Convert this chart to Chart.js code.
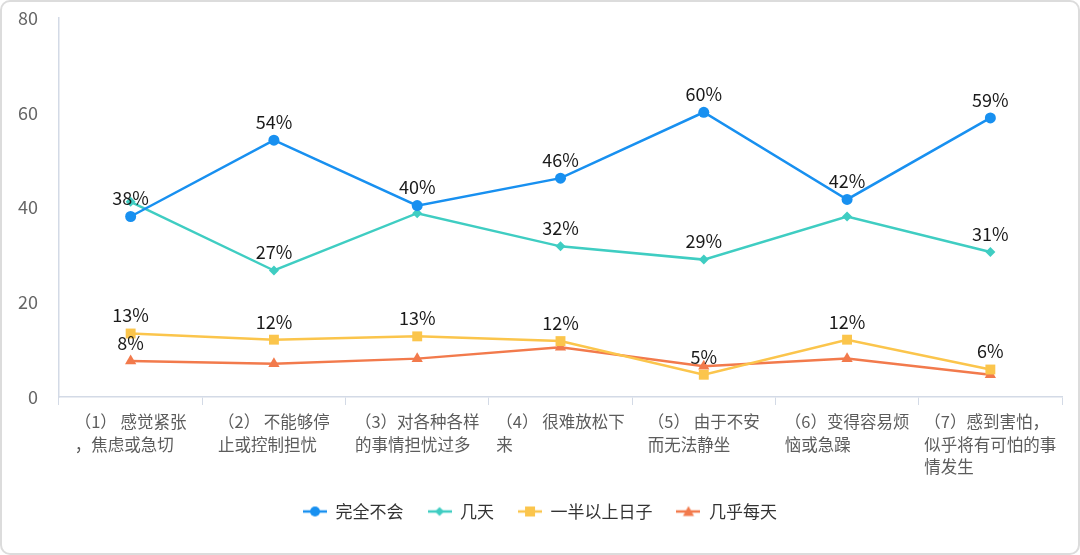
<!DOCTYPE html>
<html>
<head>
<meta charset="utf-8">
<script src="https://cdn.jsdelivr.net/npm/chart.js@4.4.0/dist/chart.umd.min.js"></script>
<style>
    html, body { margin: 0; padding: 0; background: #fff; }
    .frame {
        position: absolute; left: 0; top: 0;
        width: 1076px; height: 551px;
        border: 2px solid #dcdcdc; border-radius: 10px;
        overflow: hidden; background: #fff;
    }
    canvas { display: block; }
</style>
</head>
<body>
<div class="frame"><canvas id="gadChart" width="1076" height="551"></canvas></div>
<script>
// Categories (each one is a list of wrapped lines)
const categories = [
    ['（1） 感觉紧张', '，焦虑或急切'],
    ['（2） 不能够停', '止或控制担忧'],
    ['（3）对各种各样', '的事情担忧过多'],
    ['（4） 很难放松下', '来'],
    ['（5） 由于不安', '而无法静坐'],
    ['（6）变得容易烦', '恼或急躁'],
    ['（7）感到害怕，', '似乎将有可怕的事', '情发生'],
];

const seriesNames = ['完全不会', '几天', '一半以上日子', '几乎每天'];

// Values (%)
const notAtAll = [38.1, 54.2, 40.4, 46.2, 60.1, 41.7, 58.9];
const severalDays = [41.2, 26.7, 38.8, 31.8, 29.0, 38.1, 30.6];
const moreThanHalf = [13.4, 12.1, 12.8, 11.8, 4.7, 12.1, 5.8];
const nearlyEveryDay = [7.6, 7.0, 8.1, 10.5, 6.5, 8.1, 4.7];

// which value labels are visible (the rest are hidden in the original)
const labelShown = [
    [1, 1, 1, 1, 1, 1, 1],
    [0, 1, 0, 1, 1, 0, 1],
    [1, 1, 1, 1, 1, 1, 1],
    [1, 0, 0, 0, 0, 0, 0],
];

const yTicks = [0, 20, 40, 60, 80];

const colors = ['#1890f0', '#3fcdc2', '#fbc54c', '#f27a4c'];
const markers = ['circle', 'rectRot', 'rect', 'triangle'];
const markerSizes = [5.5, 5, 7, 6.5];
const FONT = '"Noto Sans CJK SC", "Noto Sans", sans-serif';
const AXIS_COLOR = '#d3dae6';

// small line + marker icon for the legend
function legendIcon(color, style) {
    const c = document.createElement('canvas');
    c.width = 24;
    c.height = 14;
    const g = c.getContext('2d');
    g.strokeStyle = color;
    g.fillStyle = color;
    g.lineWidth = 2.5;
    g.beginPath();
    g.moveTo(0, 7);
    g.lineTo(24, 7);
    g.stroke();
    g.beginPath();
    if (style === 'circle') {
        g.arc(12, 7, 5, 0, Math.PI * 2);
    } else if (style === 'rectRot') {
        g.moveTo(12, 2.5); g.lineTo(16.5, 7); g.lineTo(12, 11.5); g.lineTo(7.5, 7);
    } else if (style === 'rect') {
        g.rect(7, 2, 10, 10);
    } else {
        g.moveTo(12, 1.5); g.lineTo(17.5, 11.5); g.lineTo(6.5, 11.5);
    }
    g.closePath();
    g.fill();
    return c;
}

// value labels above the points
const valueLabels = {
    id: 'valueLabels',
    afterDatasetsDraw(chart) {
        const ctx = chart.ctx;
        ctx.save();
        ctx.font = '18px ' + FONT;
        ctx.fillStyle = '#1a1a1a';
        ctx.textAlign = 'center';
        ctx.textBaseline = 'middle';
        chart.data.datasets.forEach((ds, di) => {
            chart.getDatasetMeta(di).data.forEach((pt, i) => {
                if (!labelShown[di][i]) return;
                ctx.fillText(Math.round(ds.data[i]) + '%', pt.x, pt.y - 18);
            });
        });
        ctx.restore();
    },
};

// category labels: block centred under the category, lines left aligned
const categoryLabels = {
    id: 'categoryLabels',
    afterDraw(chart) {
        const scale = chart.scales.x;
        const ctx = chart.ctx;
        ctx.save();
        ctx.font = '16.5px ' + FONT;
        ctx.fillStyle = '#5c5c5c';
        ctx.textAlign = 'left';
        ctx.textBaseline = 'middle';
        categories.forEach((lines, i) => {
            const cx = scale.getPixelForTick(i);
            const w = Math.max(...lines.map(l => ctx.measureText(l).width));
            lines.forEach((line, k) => {
                ctx.fillText(line, cx - w / 2, scale.top + 25 + k * 22.3);
            });
        });
        ctx.restore();
    },
};

const datasets = [notAtAll, severalDays, moreThanHalf, nearlyEveryDay].map((values, i) => ({
    label: seriesNames[i],
    data: values,
    borderColor: colors[i],
    backgroundColor: colors[i],
    borderWidth: 2.5,
    pointStyle: markers[i],
    pointRadius: markerSizes[i],
    pointBorderWidth: 0,
    pointBackgroundColor: colors[i],
    tension: 0,
    fill: false,
}));

const icons = colors.map((c, i) => legendIcon(c, markers[i]));

new Chart(document.getElementById('gadChart'), {
    type: 'line',
    data: { labels: categories, datasets: datasets },
    options: {
        responsive: false,
        animation: false,
        layout: { padding: { top: 16, left: 16, right: 16, bottom: 23 } },
        scales: {
            x: {
                offset: true,
                grid: {
                    display: true,
                    offset: true,
                    drawOnChartArea: false,
                    drawTicks: true,
                    tickLength: 8,
                    color: AXIS_COLOR,
                },
                border: { display: true, color: AXIS_COLOR, width: 1.5 },
                ticks: {
                    color: 'rgba(0,0,0,0)',
                    font: { family: FONT, size: 16.5, lineHeight: 1.35 },
                    padding: 6,
                    autoSkip: false,
                    maxRotation: 0,
                    minRotation: 0,
                },
                afterFit(scale) {
                    scale.height = 82;
                    scale.paddingLeft = 0;
                    scale.paddingRight = 0;
                },
            },
            y: {
                min: yTicks[0],
                max: yTicks[yTicks.length - 1],
                grid: { display: false, drawTicks: false },
                border: { display: true, color: AXIS_COLOR, width: 1.5 },
                afterBuildTicks(scale) {
                    scale.ticks = yTicks.map(v => ({ value: v }));
                },
                ticks: {
                    color: '#666',
                    font: { family: FONT, size: 18 },
                    padding: 21,
                },
                afterFit(scale) {
                    scale.width = 41;
                    scale.paddingTop = 8;
                    scale.paddingBottom = 8;
                },
            },
        },
        plugins: {
            legend: {
                display: true,
                position: 'bottom',
                labels: {
                    usePointStyle: true,
                    pointStyleWidth: 24,
                    padding: 24,
                    color: '#333',
                    font: { family: FONT, size: 17 },
                    generateLabels(chart) {
                        return chart.data.datasets.map((ds, i) => ({
                            text: ds.label,
                            pointStyle: icons[i],
                            fillStyle: colors[i],
                            strokeStyle: colors[i],
                            lineWidth: 0,
                            hidden: false,
                            datasetIndex: i,
                            fontColor: '#333',
                        }));
                    },
                },
            },
            tooltip: { enabled: false },
        },
    },
    plugins: [valueLabels, categoryLabels],
});
</script>
</body>
</html>
